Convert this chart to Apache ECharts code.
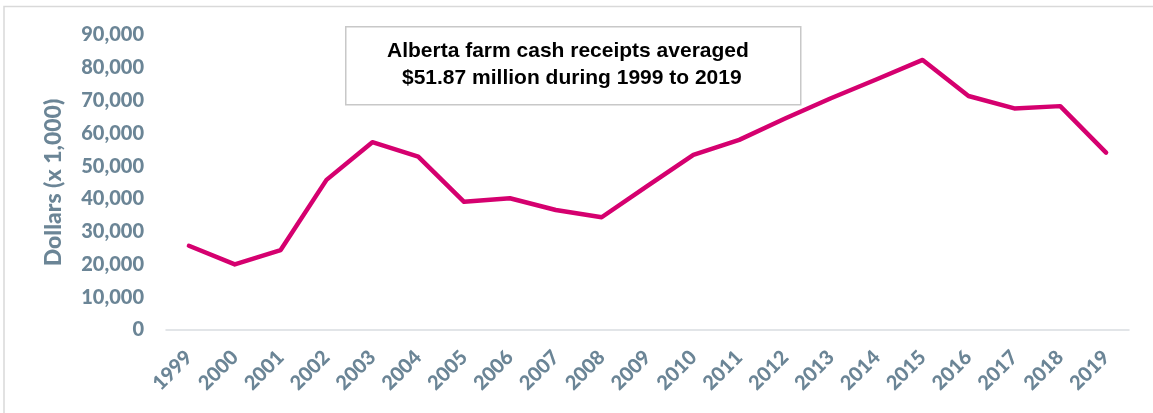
<!DOCTYPE html>
<html>
<head>
<meta charset="utf-8">
<script src="https://cdn.jsdelivr.net/npm/echarts@6/dist/echarts.min.js"></script>
<style>
html,body{margin:0;padding:0;background:#fff;}
#chart{width:1153px;height:413px;}
</style>
</head>
<body>
<div id="chart"></div>
<script>
const years = ['1999','2000','2001','2002','2003','2004','2005','2006','2007','2008','2009','2010','2011','2012','2013','2014','2015','2016','2017','2018','2019'];
const receipts = [25700,20000,24400,45800,57300,52900,39100,40200,36600,34400,44000,53400,58000,64500,70700,76500,82400,71400,67600,68300,54100];
const yTicks = [0,10000,20000,30000,40000,50000,60000,70000,80000,90000];
const annotation = ['Alberta farm cash receipts averaged', '$51.87 million during 1999 to 2019'];
const yName = 'Dollars (x 1,000)';

const axisColor = '#6b8596';
const chart = echarts.init(document.getElementById('chart'));
chart.setOption({
  animation: false,
  grid: {left: 166, right: 24, top: 35, bottom: 83},
  xAxis: {
    type: 'category',
    data: years,
    boundaryGap: true,
    axisLine: {lineStyle: {color: '#d9dde1', width: 1.5}},
    axisTick: {show: false},
    axisLabel: {rotate: 45, margin: 24, color: axisColor, fontFamily: 'Lato', fontWeight: 900, fontSize: 20}
  },
  yAxis: {
    type: 'value',
    min: yTicks[0],
    max: yTicks[yTicks.length - 1],
    interval: yTicks[1] - yTicks[0],
    name: yName,
    nameLocation: 'middle',
    nameGap: 101,
    nameTextStyle: {color: axisColor, fontFamily: 'Lato', fontWeight: 900, fontSize: 23},
    axisLine: {show: false},
    axisTick: {show: false},
    splitLine: {show: false},
    axisLabel: {
      margin: 22, color: axisColor, fontFamily: 'Lato', fontWeight: 900, fontSize: 20,
      formatter: v => v.toLocaleString('en-US')
    }
  },
  series: [{
    type: 'line',
    data: receipts,
    showSymbol: false,
    lineStyle: {color: '#d5006f', width: 4.5, cap: 'round', join: 'round'}
  }],
  graphic: [
    {type: 'polyline', shape: {points: [[4, 413], [4, 6.5], [1153, 6.5]]}, style: {fill: 'none', stroke: '#d9d9d9', lineWidth: 1.5}, silent: true},
    {type: 'rect', left: 345, top: 26, shape: {width: 455, height: 78}, style: {fill: '#fff', stroke: '#c8c8c8', lineWidth: 1.5}},
    {type: 'text', left: 387, top: 41, style: {text: annotation[0], font: 'bold 21px "Liberation Sans", Arial', fill: '#000'}},
    {type: 'text', left: 402, top: 68, style: {text: annotation[1], font: 'bold 21px "Liberation Sans", Arial', fill: '#000'}}
  ]
});
</script>
</body>
</html>
